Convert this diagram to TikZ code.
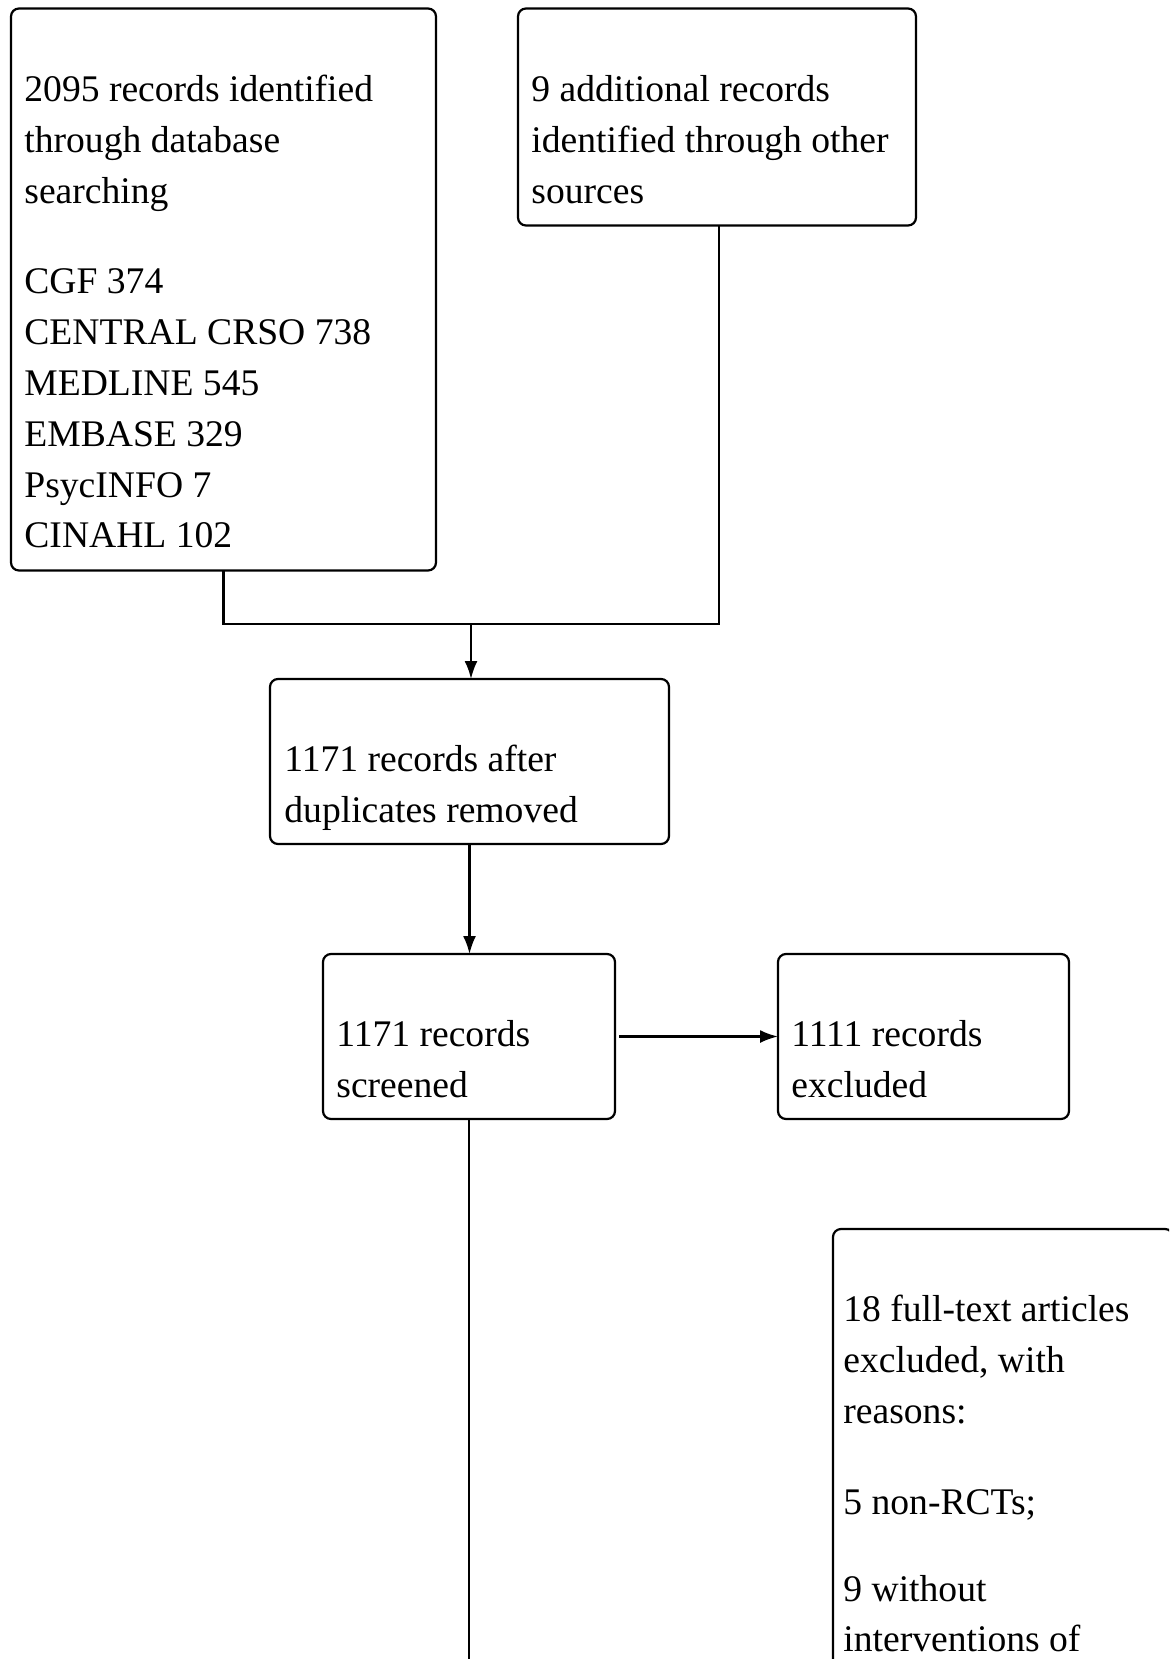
\documentclass[tikz,border=0pt]{standalone}
\usepackage{fontspec}
\setmainfont{Liberation Serif}
\usetikzlibrary{arrows.meta}
\newcommand\flowfont{\fontsize{18.8}{25.4}\selectfont}

\begin{document}
\begin{tikzpicture}[
  x=0.5pt, y=-0.5pt,
  recbox/.style={draw, line width=1.1pt, rounded corners=4pt, anchor=north west,
    inner sep=0pt, outer sep=0pt},
  rectext/.style={anchor=north west, inner sep=0pt, align=left, font=\flowfont},
  link/.style={line width=1.1pt},
  arrow/.style={link, -{Latex[length=9pt, width=6.5pt]}},
]
  \useasboundingbox (0,0) rectangle (1169,1659);
  \clip (0,0) rectangle (1169,1659);
  % boxes
  \node[recbox, minimum width=212.5pt, minimum height=281pt] (db) at (11,8.5) {};
  \node[recbox, minimum width=199pt, minimum height=108.5pt] (other) at (518,8.5) {};
  \node[recbox, minimum width=199.5pt, minimum height=82.5pt] (dup) at (270,679) {};
  \node[recbox, minimum width=146pt, minimum height=82.5pt] (screened) at (323,954) {};
  \node[recbox, minimum width=145.5pt, minimum height=82.5pt] (excluded) at (778,954) {};
  \node[recbox, minimum width=170pt, minimum height=300pt] (fulltext) at (833,1229) {};
  % texts
  \node[rectext] (dbtext) at ([shift={(13,57)}]db.north west)
    {\strut 2095 records identified\\ through database\\ searching\\[20pt]
     CGF 374\\ CENTRAL CRSO 738\\ MEDLINE 545\\ EMBASE 329\\ PsycINFO 7\\ CINAHL 102};
  \node[rectext] (othertext) at ([shift={(13,57)}]other.north west)
    {\strut 9 additional records\\ identified through other\\ sources};
  \node[rectext] (duptext) at ([shift={(14,57)}]dup.north west)
    {\strut 1171 records after\\ duplicates removed};
  \node[rectext] (screenedtext) at ([shift={(13,57)}]screened.north west)
    {\strut 1171 records\\ screened};
  \node[rectext] (excludedtext) at ([shift={(13,57)}]excluded.north west)
    {\strut 1111 records\\ excluded};
  \node[rectext] (fulltexttext) at ([shift={(10,57)}]fulltext.north west)
    {\strut 18 full-text articles\\ excluded, with\\ reasons:\\[20pt]
     5 non-RCTs;\\[18pt] 9 without\\ interventions of};
  % connectors
  \coordinate (join) at (471,624);
  \coordinate (offpage) at (469,1700);
  \draw[link] (db.south) |- (join) -| ([xshift=1pt]other.south);
  \draw[arrow] (join) -- (join |- dup.north);
  \draw[arrow] (dup.south) -- (dup.south |- screened.north);
  \draw[arrow] ([xshift=2pt]screened.east) -- (excluded.west);
  \draw[link] (screened.south) -- (screened.south |- offpage);
\end{tikzpicture}
\end{document}
